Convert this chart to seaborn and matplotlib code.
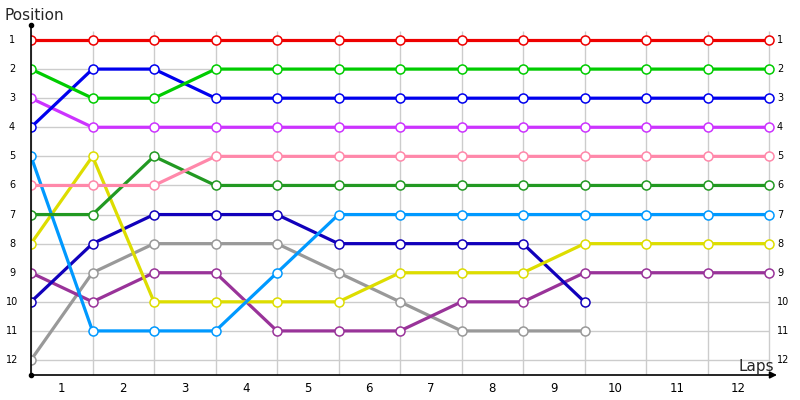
import numpy as np
import pandas as pd
import matplotlib
matplotlib.use("Agg")
import matplotlib.pyplot as plt
import seaborn as sns

laps = list(range(0, 13))
lap_labels = [str(i) for i in range(1, 13)]
positions = list(range(1, 13))

red = [1, 1, 1, 1, 1, 1, 1, 1, 1, 1, 1, 1, 1]
green = [2, 3, 3, 2, 2, 2, 2, 2, 2, 2, 2, 2, 2]
blue = [4, 2, 2, 3, 3, 3, 3, 3, 3, 3, 3, 3, 3]
violet = [3, 4, 4, 4, 4, 4, 4, 4, 4, 4, 4, 4, 4]
pink = [6, 6, 6, 5, 5, 5, 5, 5, 5, 5, 5, 5, 5]
darkgreen = [7, 7, 5, 6, 6, 6, 6, 6, 6, 6, 6, 6, 6]
yellow = [8, 5, 10, 10, 10, 10, 9, 9, 9, 8, 8, 8, 8]
lightblue = [5, 11, 11, 11, 9, 7, 7, 7, 7, 7, 7, 7, 7]
darkblue = [10, 8, 7, 7, 7, 8, 8, 8, 8, 10]
gray = [12, 9, 8, 8, 8, 9, 10, 11, 11, 11]
purple = [9, 10, 9, 9, 11, 11, 11, 10, 10, 9, 9, 9, 9]

series = [
    ("gray", gray, "#999999"),
    ("purple", purple, "#993399"),
    ("darkblue", darkblue, "#1100bb"),
    ("yellow", yellow, "#dddd00"),
    ("lightblue", lightblue, "#0099ff"),
    ("darkgreen", darkgreen, "#229922"),
    ("pink", pink, "#ff88aa"),
    ("violet", violet, "#cc33ff"),
    ("blue", blue, "#0000ee"),
    ("green", green, "#00cc00"),
    ("red", red, "#ee0000"),
]

sns.set_style("white")
plt.rcParams["font.family"] = ["DejaVu Sans"]

fig = plt.figure(figsize=(8, 4), dpi=100)
W, H = 800, 400
px = 61.5
py = 29.09
x0pix, x1pix = 31, 781
ytop, ybot = 25, 375
ax = fig.add_axes([x0pix / W, 1 - ybot / H, (x1pix - x0pix) / W, (ybot - ytop) / H])
ax.set_xlim(0, (x1pix - x0pix) / px)
ylo = 1 - (40 - ytop) / py
yhi = 12 + (ybot - 360) / py
ax.set_ylim(yhi, ylo)
for s in ax.spines.values():
    s.set_visible(False)
ax.set_xticks([])
ax.set_yticks([])

grid_top = 1 - (40 - 31) / py
ax.vlines(laps, grid_top, yhi, color="#cccccc", lw=1, zorder=0)
ax.hlines(positions, 0, 12, color="#cccccc", lw=1, zorder=0)

for name, vals, col in series:
    df = pd.DataFrame({"lap": laps[:len(vals)], "pos": vals})
    sns.lineplot(data=df, x="lap", y="pos", ax=ax, color=col, lw=2.3,
                 marker="o", markersize=6.5, mfc="white", mec=col, mew=1.1,
                 sort=False, legend=False, zorder=3)

ax.set_xlabel("")
ax.set_ylabel("")

# axes lines
ax.plot([0, 0], [ylo, yhi], color="black", lw=1.2, zorder=4, clip_on=False)
ax.plot([0], [ylo], marker="o", color="black", ms=3, clip_on=False, zorder=4)
ax.plot([0], [yhi], marker="o", color="black", ms=3, clip_on=False, zorder=4)
xend = (777 - x0pix) / px
ax.annotate("", xy=(xend, yhi), xytext=(0, yhi),
            arrowprops=dict(arrowstyle="-|>", color="black", lw=1.2,
                            mutation_scale=10, shrinkA=0, shrinkB=0),
            annotation_clip=False, zorder=4)

# tick labels
for i, lab in enumerate(lap_labels):
    ax.text(i + 0.5, yhi + 13 / py, lab, ha="center", va="center",
            fontsize=8.5, color="black", clip_on=False)
for p in positions:
    ax.text(-19 / px, p, str(p), ha="center", va="center", fontsize=7,
            color="black", clip_on=False)
    ax.text(12 + 8 / px, p, str(p), ha="left", va="center", fontsize=7,
            color="black", clip_on=False)

fig.text(4 / W, 1 - 15 / H, "Position", ha="left", va="center", fontsize=11)
fig.text(774 / W, 1 - 366 / H, "Laps", ha="right", va="center", fontsize=11)

fig.savefig("out.png", dpi=100, facecolor="white")
